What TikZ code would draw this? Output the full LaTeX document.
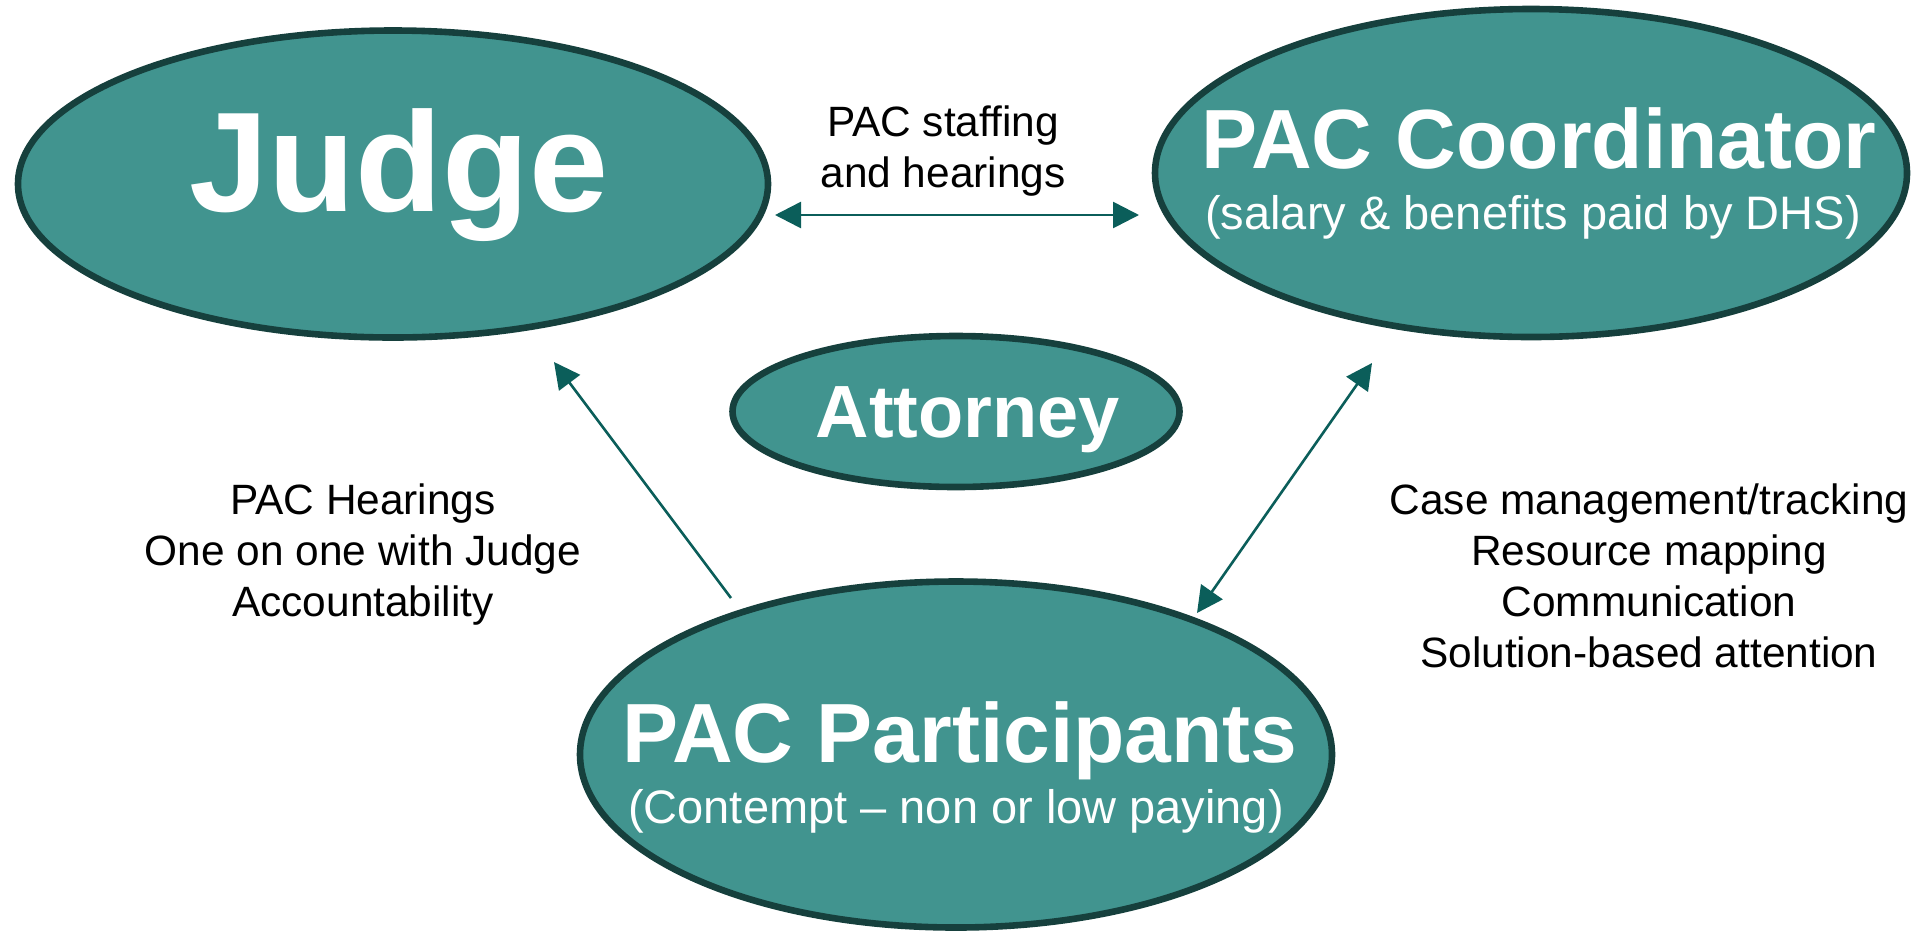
\documentclass[tikz,border=0pt]{standalone}
\usepackage{fontspec}
\setmainfont{Liberation Sans}
\usetikzlibrary{shapes.geometric, arrows.meta}
\definecolor{pacfill}{RGB}{65,148,143}
\definecolor{pacedge}{RGB}{22,64,61}
\definecolor{paclink}{RGB}{11,94,90}

\begin{document}
\begin{tikzpicture}[x=0.5pt, y=-0.5pt,
	>={Triangle[length=13pt, width=13pt]},
	actor/.style={ellipse, draw=pacedge, line width=3.3pt, fill=pacfill, inner sep=0pt},
	bigname/.style={anchor=base, text=white, inner sep=0pt, font=\bfseries\fontsize{42}{46}\selectfont},
	subname/.style={anchor=base, text=white, inner sep=0pt, font=\fontsize{23.5}{27}\selectfont},
	notetext/.style={align=center, inner sep=0pt, font=\fontsize{21.2}{25.5}\selectfont},
	link/.style={draw=paclink, line width=1.3pt},
	]
	\useasboundingbox (0,0) rectangle (1921,933);

	% the four parties
	\node[actor, minimum width=375pt, minimum height=153.5pt] (judge) at (393,184) {};
	\node[actor, minimum width=376pt, minimum height=164pt] (coord) at (1531,173) {};
	\node[actor, minimum width=223.5pt, minimum height=75.5pt] (attorney) at (956,411.5) {};
	\node[actor, minimum width=376pt, minimum height=173pt] (part) at (956,754.5) {};

	\node[bigname, font=\bfseries\fontsize{71}{75}\selectfont] (judge-t) at (399,211) {Judge};
	\node[bigname] (coord-t) at (1539,168) {PAC Coordinator};
	\node[subname] (coord-s) at (1533,229) {(salary \& benefits paid by DHS)};
	\node[bigname, font=\bfseries\fontsize{37}{40}\selectfont] (attorney-t) at (968,437) {Attorney};
	\node[bigname] (part-t) at (960,762) {PAC Participants};
	\node[subname] (part-s) at (956,823) {(Contempt \textendash{} non or low paying)};

	% what flows between them
	\node[notetext] (staffing) at (943,151) {PAC staffing\\and hearings};
	\node[notetext] (hearings) at (363,555) {PAC Hearings\\One on one with Judge\\Accountability};
	\node[notetext] (casework) at (1649,576) {Case management/tracking\\Resource mapping\\Communication\\Solution-based attention};

	\coordinate (judge-r) at (775,215);
	\coordinate (coord-l) at (1139,215);
	\coordinate (part-nw) at (731,598);
	\coordinate (judge-se) at (554,362);
	\coordinate (part-ne) at (1197,613);
	\coordinate (coord-sw) at (1372,363);

	\draw[link, <->] (judge-r) -- (coord-l);
	\draw[link, ->] (part-nw) -- (judge-se);
	\draw[link, <->] (part-ne) -- (coord-sw);
\end{tikzpicture}
\end{document}
